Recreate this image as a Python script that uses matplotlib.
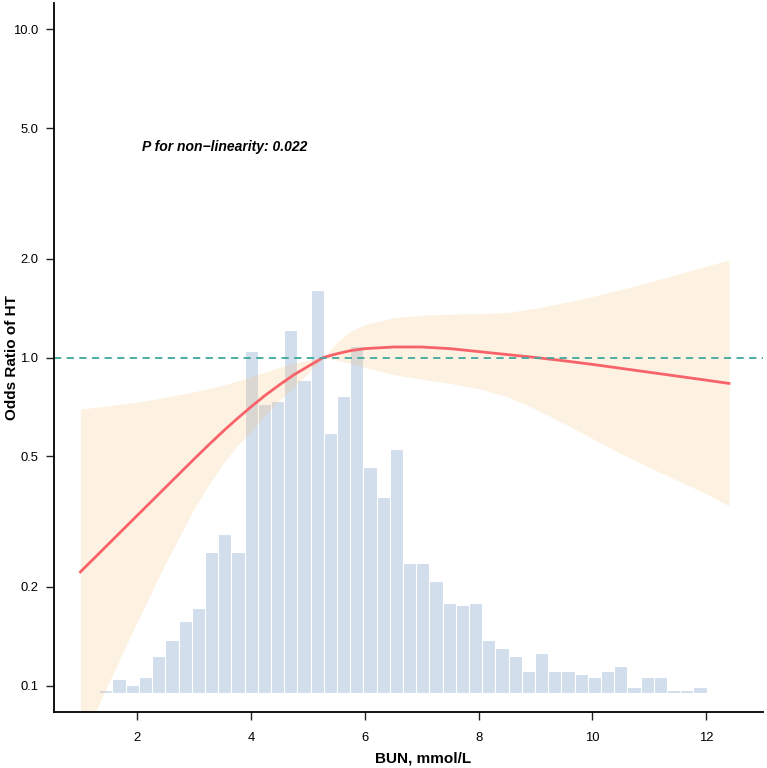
import numpy as np
import matplotlib
matplotlib.use("Agg")
import matplotlib.pyplot as plt

plt.rcParams['font.family'] = ['Liberation Sans', 'DejaVu Sans']

# spline estimate (odds ratio) with 95% CI
bun = [1.0, 1.5, 2.0, 2.5, 3.0, 3.25, 3.5, 3.75, 4.0, 4.25, 4.5, 4.75, 5.0, 5.27, 5.5,
       5.75, 6.0, 6.5, 7.0, 7.5, 8.0, 8.5, 9.0, 9.5, 10.0, 10.5, 11.0, 11.5, 12.0, 12.4]
odds_ratio = [0.2223, 0.2710, 0.3304, 0.4027, 0.4909, 0.5408, 0.5943, 0.6501, 0.7079,
              0.7674, 0.8260, 0.8851, 0.9397, 1.0000, 1.0257, 1.0495, 1.0641, 1.0765,
              1.0765, 1.0641, 1.0423, 1.0209, 1.0000, 0.9772, 0.9528, 0.9268, 0.9016,
              0.8770, 0.8531, 0.8337]
ci_upper = [0.6966, 0.7129, 0.7311, 0.7568, 0.7870, 0.8035, 0.8222, 0.8472, 0.8750,
            0.9036, 0.9333, 0.9594, 0.9818, 1.0000, 1.1092, 1.2023, 1.2589, 1.3213,
            1.3459, 1.3552, 1.3614, 1.3709, 1.4125, 1.4689, 1.5346, 1.6106, 1.6982,
            1.7947, 1.8967, 1.9815]
ci_lower = [0.0661, 0.1023, 0.1567, 0.2371, 0.3467, 0.4074, 0.4732, 0.5370, 0.5957,
            0.6683, 0.7413, 0.8128, 0.8954, 1.0000, 0.9817, 0.9594, 0.9333, 0.8872,
            0.8590, 0.8337, 0.8035, 0.7603, 0.6966, 0.6295, 0.5662, 0.5093, 0.4624,
            0.4217, 0.3846, 0.3528]

# distribution of BUN (histogram counts)
hist_start, hist_stop = 1.332, 12.006
hist_counts = [1, 5, 3, 6, 14, 20, 27, 32, 53, 60, 53, 129, 109, 110, 137, 118, 152, 98,
               112, 131, 85, 74, 92, 49, 49, 42, 34, 33, 34, 20, 17, 14, 8, 15, 8, 8, 7,
               6, 8, 10, 2, 6, 6, 1, 1, 2]

y_ticks = [0.1, 0.2, 0.5, 1.0, 2.0, 5.0, 10.0]
y_ticklabels = ['0.1', '0.2', '0.5', '1.0', '2.0', '5.0', '10.0']
x_ticks = [2, 4, 6, 8, 10, 12]

fig = plt.figure(figsize=(7.67, 7.68), dpi=100)
ax = fig.add_axes([54 / 767, 56 / 768, 709 / 767, 709 / 768])

# histogram on a hidden twin axis, drawn underneath
axh = ax.twinx()
edges = np.linspace(hist_start, hist_stop, len(hist_counts) + 1)
axh.bar(edges[:-1], hist_counts, width=np.diff(edges), align='edge',
        color='#D2DEEC', edgecolor='white', linewidth=0.8)
axh.set_ylim(-7.3, 260.3)
axh.axis('off')
ax.set_zorder(axh.get_zorder() + 1)
ax.patch.set_visible(False)

ax.fill_between(bun, ci_lower, ci_upper, color='#F8C27A', alpha=0.22, linewidth=0)
ax.plot(bun, odds_ratio, color='#F8636A', linewidth=2.0)
ax.axhline(1.0, color='#3FA89D', linestyle=(0, (4, 3)), linewidth=1.3)

ax.set_yscale('log')
ax.set_xlim(0.536, 12.997)
ax.set_ylim(0.0832, 12.02)
ax.set_yticks(y_ticks)
ax.set_yticklabels(y_ticklabels)
ax.yaxis.set_minor_locator(matplotlib.ticker.NullLocator())
ax.set_xticks(x_ticks)

for side in ['top', 'right']:
    ax.spines[side].set_visible(False)
for side in ['left', 'bottom']:
    ax.spines[side].set_linewidth(1.3)
ax.tick_params(axis='both', length=5.5, width=1.0, labelsize=9.4, color='#222222')
ax.tick_params(axis='y', pad=6)
ax.tick_params(axis='x', pad=9)

ax.set_xlabel('BUN, mmol/L', fontsize=11, fontweight='bold')
ax.xaxis.set_label_coords(0.521, -0.056)
ax.set_ylabel('Odds Ratio of HT', fontsize=11, fontweight='bold')
ax.yaxis.set_label_coords(-0.05, 0.5)

ax.text(2.08, 4.38, 'P for non\u2212linearity: 0.022', fontsize=10,
        fontweight='bold', fontstyle='italic', va='center', ha='left')

fig.savefig('out.png', dpi=100)
